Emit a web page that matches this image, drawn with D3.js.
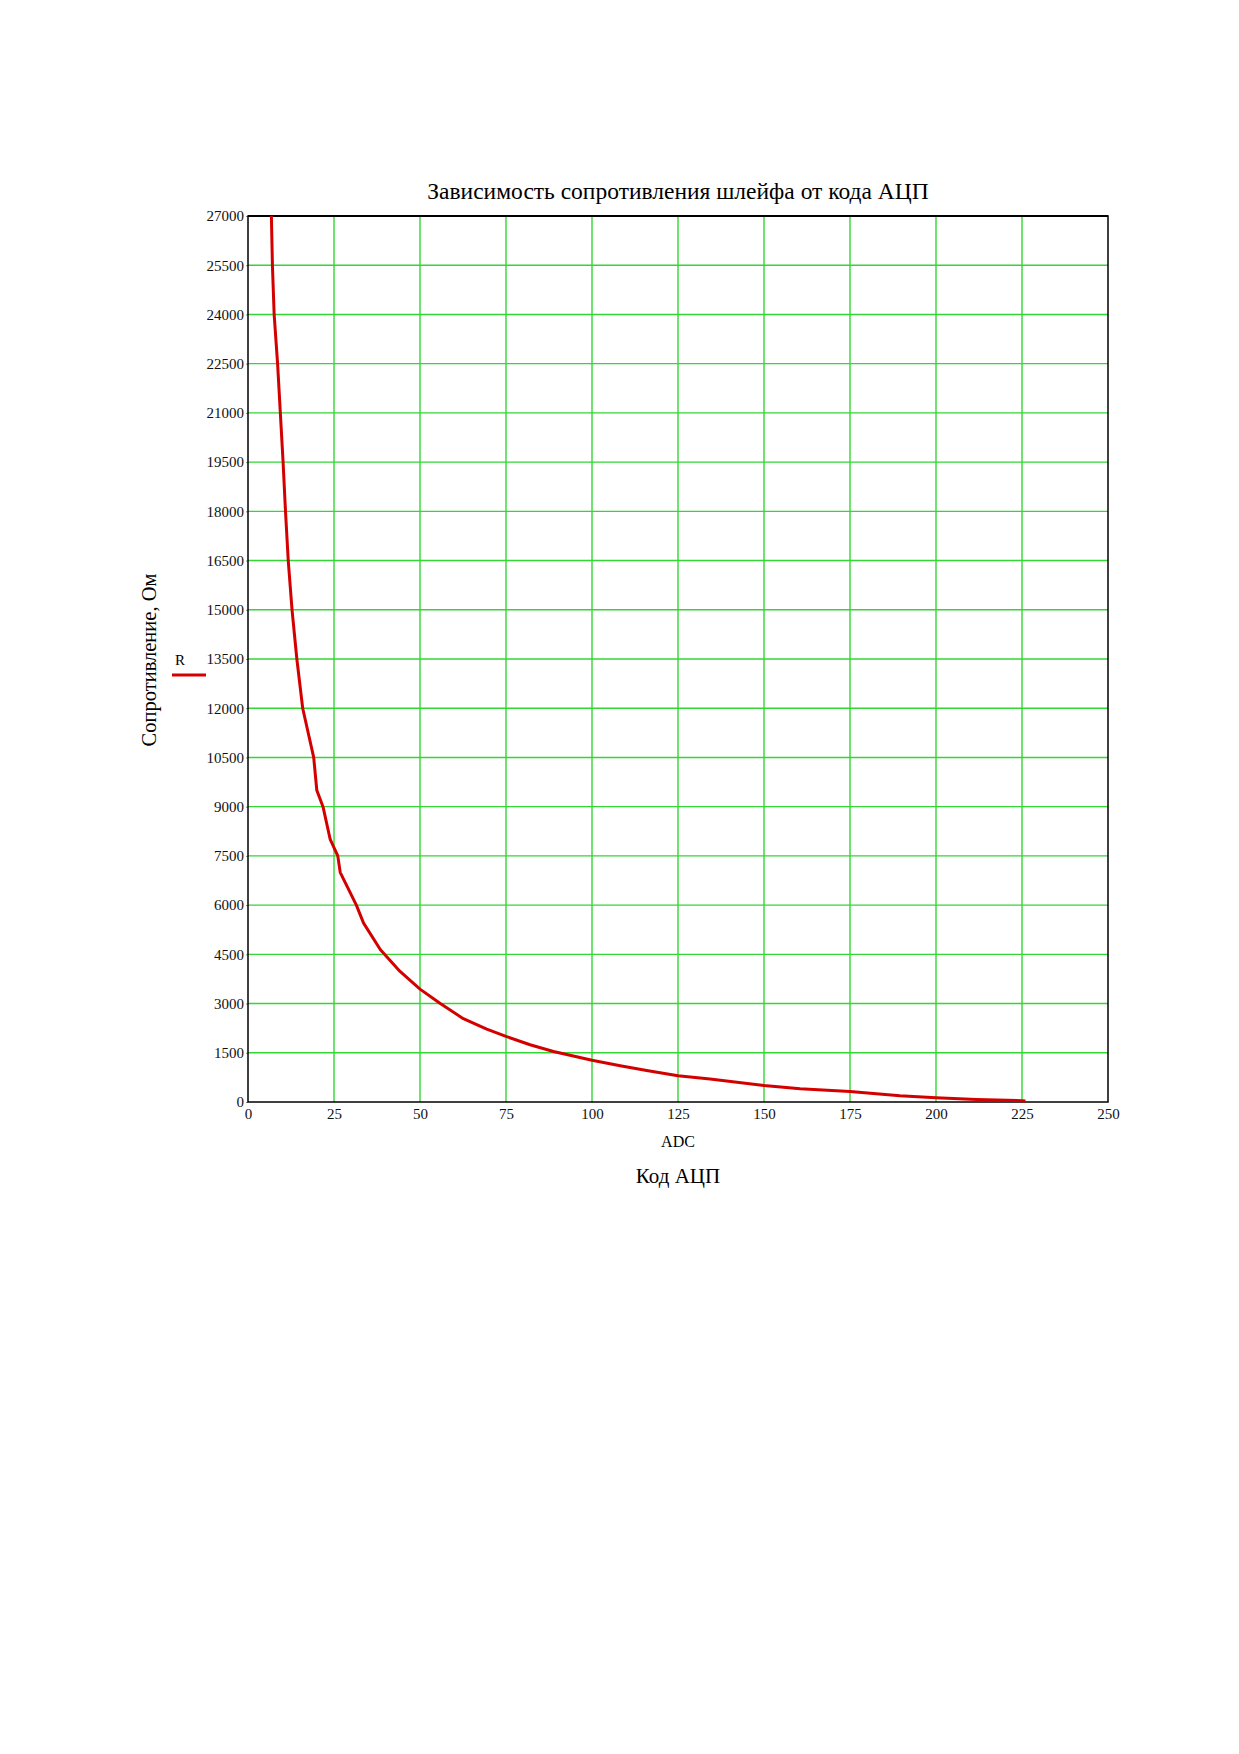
<!DOCTYPE html>
<html>
<head>
<meta charset="utf-8">
<script src="https://cdn.jsdelivr.net/npm/d3@7"></script>
<style>
  body { margin: 0; background: #fff; }
  text { font-family: "Liberation Serif", "Times New Roman", serif; }
</style>
</head>
<body>
<svg id="chart"></svg>
<script>
// ADC code vs loop resistance
var adc = [6.8, 7.1, 7.6, 8.6, 9.4, 10.2, 10.9, 11.7, 12.8, 14.2, 15.9, 19.1, 20.0, 21.8, 23.9, 26.1, 26.8,
           31.5, 33.6, 38.5, 44.2, 50, 55.9, 62.6, 69.4, 75, 82, 88.8, 100, 108.2, 115.9, 125, 134.3,
           150, 160.5, 175, 189.5, 200, 211.8, 225, 226];
var resistance = [27000, 25500, 24000, 22500, 21000, 19500, 18000, 16500, 15000, 13500, 12000, 10500, 9500, 9000, 8000, 7500, 7000,
                  6000, 5450, 4640, 3980, 3440, 3000, 2540, 2220, 2000, 1745, 1540, 1270, 1105, 960, 800, 700,
                  506, 405, 323, 192, 131, 79, 40, 30];
var xTicks = [0, 25, 50, 75, 100, 125, 150, 175, 200, 225, 250];
var yTicks = [0, 1500, 3000, 4500, 6000, 7500, 9000, 10500, 12000, 13500, 15000, 16500,
              18000, 19500, 21000, 22500, 24000, 25500, 27000];

var titleText = "Зависимость сопротивления шлейфа от кода АЦП";
var yLabel = "Сопротивление, Ом";
var xLabel = "ADC";
var xCaption = "Код АЦП";
var seriesName = "R";

var W = 1239, H = 1754;
margin = { top: 216, left: 248, right: 131, bottom: 652 };
width = W - margin.left - margin.right;
height = H - margin.top - margin.bottom;

var svg = d3.select("#chart").attr("width", W).attr("height", H);

var x = d3.scaleLinear().domain([0, 250]).range([0, width]);
var y = d3.scaleLinear().domain([0, 27000]).range([height, 0]);

var g = svg.append("g").attr("transform", "translate(" + margin.left + "," + margin.top + ")");

// grid
g.append("g")
  .selectAll("line")
  .data(xTicks.slice(1, -1))
  .join("line")
  .attr("x1", d => x(d)).attr("x2", d => x(d))
  .attr("y1", 0).attr("y2", height)
  .attr("stroke", "#33d633").attr("stroke-width", 1.4);

g.append("g")
  .selectAll("line")
  .data(yTicks.slice(1, -1))
  .join("line")
  .attr("y1", d => y(d)).attr("y2", d => y(d))
  .attr("x1", 0).attr("x2", width)
  .attr("stroke", "#33d633").attr("stroke-width", 1.4);

// axes
var xAxis = g.append("g")
  .attr("transform", "translate(0," + height + ")")
  .call(d3.axisBottom(x).tickValues(xTicks).tickSize(0).tickPadding(6));
xAxis.select(".domain").remove();
xAxis.selectAll("text").attr("font-size", 15).attr("fill", "#111")
  .attr("font-family", "Liberation Serif");

var yAxis = g.append("g")
  .call(d3.axisLeft(y).tickValues(yTicks).tickFormat(d3.format("d")).tickSize(2).tickPadding(2));
yAxis.select(".domain").remove();
yAxis.selectAll("line").attr("stroke", "#7a8a9a");
yAxis.selectAll("text").attr("font-size", 15).attr("fill", "#111")
  .attr("font-family", "Liberation Serif");

// frame
g.append("rect")
  .attr("width", width).attr("height", height)
  .attr("fill", "none").attr("stroke", "#000").attr("stroke-width", 1.5);
g.append("line")
  .attr("x1", 0).attr("x2", width).attr("y1", 0).attr("y2", 0)
  .attr("stroke", "#000").attr("stroke-width", 2.2);

// curve
var line = d3.line()
  .x((d, i) => x(adc[i]))
  .y(d => y(d));

g.append("path")
  .datum(resistance)
  .attr("d", line)
  .attr("fill", "none")
  .attr("stroke", "#d40000")
  .attr("stroke-width", 3)
  .attr("stroke-linejoin", "round");

// titles
svg.append("text")
  .attr("x", 678).attr("y", 199)
  .attr("text-anchor", "middle")
  .attr("font-size", 23.5)
  .text(titleText);

svg.append("text")
  .attr("transform", "translate(156,660) rotate(-90)")
  .attr("text-anchor", "middle")
  .attr("font-size", 20.5)
  .text(yLabel);

svg.append("text")
  .attr("x", margin.left + width / 2).attr("y", 1147)
  .attr("text-anchor", "middle")
  .attr("font-size", 16)
  .text(xLabel);

svg.append("text")
  .attr("x", margin.left + width / 2).attr("y", 1183)
  .attr("text-anchor", "middle")
  .attr("font-size", 21)
  .text(xCaption);

// legend
svg.append("text")
  .attr("x", 180).attr("y", 665)
  .attr("text-anchor", "middle")
  .attr("font-size", 15)
  .text(seriesName);
svg.append("line")
  .attr("x1", 172).attr("x2", 206).attr("y1", 675).attr("y2", 675)
  .attr("stroke", "#d40000").attr("stroke-width", 3);
</script>
</body>
</html>
